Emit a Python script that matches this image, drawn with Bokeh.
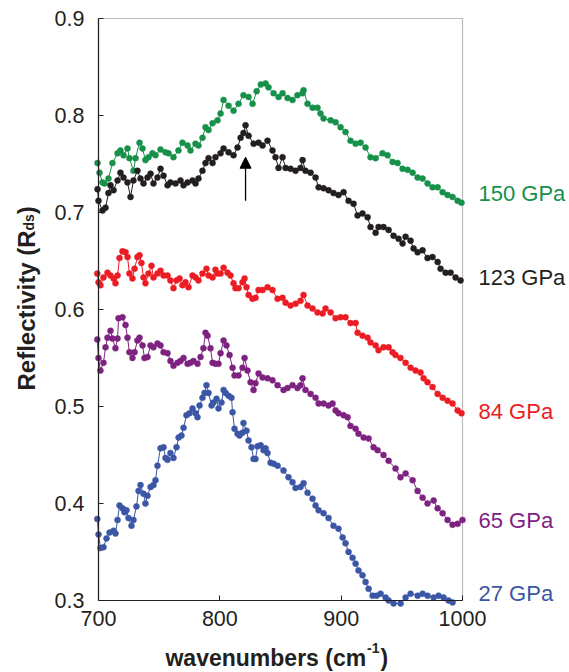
from math import pi

from bokeh.plotting import figure
from bokeh.models import Range1d, Label, Arrow, NormalHead, BoxAnnotation
from bokeh.embed import file_html
from bokeh.resources import INLINE

# ---- reflectivity spectra at each pressure (wavenumber in cm^-1, reflectivity R_ds) ----
wn_150 = [699.2, 700.8, 703.3, 704.9, 708.2, 711.5, 715.7, 718.1, 720.6, 723.9, 725.5, 728.8, 730.5, 733.8,
          736.3, 738.7, 741.2, 744.5, 747.0, 751.1, 755.2, 757.7, 761.8, 765.9, 769.2, 773.4, 775.8, 779.9,
          782.4, 785.7, 788.2, 790.7, 794.0, 798.1, 800.6, 803.1, 807.2, 811.3, 815.4, 819.5, 823.7, 827.0,
          830.3, 833.8, 837.7, 840.1, 844.3, 848.4, 851.7, 855.8, 859.9, 864.0, 868.2, 869.0, 872.3, 876.4,
          880.5, 883.0, 885.5, 891.3, 895.4, 899.5, 903.6, 907.7, 911.9, 916.0, 920.1, 924.2, 928.4, 934.1,
          938.2, 942.4, 946.5, 950.6, 954.7, 958.9, 963.0, 967.1, 971.2, 975.3, 979.5, 983.6, 987.7, 991.8,
          996.0, 999.2]
r_150 = [0.751, 0.741, 0.731, 0.730, 0.735, 0.751, 0.761, 0.764, 0.759, 0.766, 0.756, 0.743, 0.756, 0.772,
         0.766, 0.754, 0.757, 0.761, 0.759, 0.765, 0.762, 0.761, 0.757, 0.764, 0.772, 0.769, 0.764, 0.771,
         0.769, 0.777, 0.788, 0.785, 0.792, 0.795, 0.802, 0.816, 0.810, 0.805, 0.812, 0.821, 0.819, 0.812,
         0.825, 0.832, 0.833, 0.829, 0.823, 0.819, 0.823, 0.818, 0.816, 0.821, 0.823, 0.826, 0.812, 0.808,
         0.808, 0.802, 0.797, 0.795, 0.793, 0.788, 0.783, 0.774, 0.771, 0.772, 0.767, 0.757, 0.756, 0.761,
         0.759, 0.752, 0.751, 0.745, 0.744, 0.741, 0.736, 0.735, 0.730, 0.726, 0.726, 0.721, 0.718, 0.716,
         0.712, 0.710]

wn_123 = [699.2, 700.0, 703.3, 705.8, 708.2, 709.9, 712.4, 715.7, 718.1, 720.6, 723.9, 726.4, 728.8, 732.1,
          734.6, 737.1, 740.4, 742.9, 745.3, 748.6, 751.1, 753.6, 756.9, 759.3, 763.5, 767.6, 770.1, 773.4,
          777.5, 780.0, 782.4, 785.7, 788.2, 790.7, 794.0, 796.4, 800.6, 803.1, 807.2, 811.3, 814.6, 817.1,
          819.5, 821.2, 823.7, 827.8, 831.9, 835.2, 839.3, 843.4, 845.9, 848.4, 851.7, 854.2, 858.3, 862.4,
          866.5, 868.2, 870.6, 874.8, 878.9, 881.4, 885.5, 889.6, 893.7, 897.8, 902.0, 906.1, 910.2, 913.5,
          917.6, 921.8, 924.2, 928.4, 930.8, 934.9, 939.1, 943.2, 947.3, 950.6, 953.1, 957.2, 959.7, 963.0,
          967.1, 971.2, 975.3, 979.5, 981.9, 986.1, 990.2, 994.3, 998.4]
r_123 = [0.724, 0.712, 0.702, 0.705, 0.720, 0.728, 0.723, 0.733, 0.741, 0.736, 0.731, 0.716, 0.733, 0.743,
         0.735, 0.730, 0.736, 0.740, 0.730, 0.736, 0.745, 0.738, 0.728, 0.731, 0.730, 0.733, 0.728, 0.731,
         0.733, 0.730, 0.735, 0.743, 0.751, 0.756, 0.751, 0.757, 0.761, 0.766, 0.762, 0.759, 0.767, 0.777,
         0.782, 0.790, 0.779, 0.771, 0.772, 0.769, 0.774, 0.764, 0.757, 0.746, 0.757, 0.746, 0.745, 0.743,
         0.746, 0.754, 0.743, 0.741, 0.736, 0.726, 0.725, 0.723, 0.720, 0.718, 0.721, 0.712, 0.709, 0.697,
         0.699, 0.695, 0.685, 0.679, 0.685, 0.685, 0.682, 0.676, 0.673, 0.668, 0.675, 0.671, 0.663, 0.659,
         0.661, 0.653, 0.654, 0.649, 0.642, 0.638, 0.638, 0.633, 0.630]

wn_84 = [699.0, 700.0, 701.6, 704.1, 707.4, 709.9, 712.4, 714.0, 715.7, 717.3, 719.8, 722.3, 723.9, 725.5,
         728.0, 729.7, 732.1, 733.8, 735.4, 737.1, 738.7, 741.2, 743.7, 745.3, 748.6, 751.1, 753.6, 756.9,
         759.3, 761.8, 764.3, 766.8, 769.2, 771.7, 774.2, 777.5, 780.0, 782.4, 785.7, 789.0, 790.7, 794.0,
         796.4, 798.1, 800.6, 803.1, 806.3, 808.8, 811.3, 812.9, 815.4, 818.7, 820.4, 822.0, 823.7, 826.9,
         829.4, 831.9, 835.2, 839.3, 843.4, 847.6, 851.7, 854.2, 858.3, 862.4, 866.5, 869.0, 872.3, 876.4,
         880.5, 884.7, 887.1, 891.3, 895.4, 899.5, 903.6, 907.7, 911.9, 913.5, 917.6, 921.8, 924.2, 928.4,
         930.8, 934.9, 939.1, 942.4, 944.8, 948.9, 953.1, 957.2, 961.3, 965.4, 967.9, 971.2, 975.3, 979.5,
         983.6, 987.7, 991.8, 996.0, 999.2]
r_84 = [0.637, 0.628, 0.625, 0.633, 0.638, 0.635, 0.632, 0.627, 0.635, 0.653, 0.660, 0.659, 0.654, 0.637,
        0.632, 0.642, 0.654, 0.656, 0.648, 0.633, 0.627, 0.637, 0.645, 0.633, 0.637, 0.640, 0.635, 0.635,
        0.630, 0.622, 0.630, 0.632, 0.625, 0.628, 0.623, 0.635, 0.633, 0.630, 0.637, 0.642, 0.635, 0.633,
        0.641, 0.637, 0.637, 0.643, 0.638, 0.635, 0.627, 0.622, 0.622, 0.628, 0.632, 0.623, 0.615, 0.611,
        0.612, 0.620, 0.620, 0.623, 0.620, 0.611, 0.612, 0.607, 0.604, 0.606, 0.609, 0.615, 0.604, 0.601,
        0.597, 0.596, 0.601, 0.597, 0.591, 0.592, 0.592, 0.586, 0.586, 0.576, 0.573, 0.571, 0.566, 0.563,
        0.558, 0.561, 0.561, 0.556, 0.553, 0.550, 0.545, 0.540, 0.537, 0.535, 0.529, 0.525, 0.520, 0.513,
        0.509, 0.506, 0.503, 0.496, 0.493]

wn_65 = [699.0, 700.0, 701.6, 704.1, 705.8, 707.4, 709.9, 711.5, 714.0, 715.7, 716.5, 719.8, 722.3, 723.9,
         725.5, 728.0, 729.7, 732.1, 733.8, 736.3, 737.9, 740.4, 742.9, 745.3, 748.6, 751.1, 753.6, 756.9,
         759.3, 761.8, 765.1, 767.6, 770.1, 773.4, 775.8, 778.3, 781.6, 784.1, 786.5, 788.2, 789.9, 792.3,
         794.0, 796.4, 798.9, 800.6, 803.1, 805.5, 808.0, 810.5, 812.1, 815.4, 818.7, 820.4, 822.8, 825.3,
         827.8, 829.4, 831.9, 835.2, 839.3, 843.4, 847.6, 852.5, 855.8, 859.9, 864.0, 866.5, 868.2, 870.6,
         874.8, 878.9, 881.4, 885.5, 889.6, 892.9, 895.4, 897.8, 902.0, 905.3, 907.7, 911.9, 914.3, 918.5,
         922.6, 926.7, 930.0, 934.9, 939.1, 944.8, 948.9, 953.1, 958.9, 963.0, 967.1, 971.2, 976.2, 979.5,
         983.6, 987.7, 991.8, 996.0, 1000.0]
r_65 = [0.569, 0.550, 0.537, 0.545, 0.561, 0.571, 0.578, 0.570, 0.560, 0.570, 0.591, 0.592, 0.584, 0.571,
        0.556, 0.550, 0.556, 0.568, 0.571, 0.563, 0.550, 0.551, 0.563, 0.561, 0.565, 0.563, 0.556, 0.555,
        0.547, 0.542, 0.545, 0.547, 0.550, 0.544, 0.545, 0.547, 0.544, 0.551, 0.560, 0.576, 0.573, 0.560,
        0.545, 0.544, 0.544, 0.555, 0.568, 0.563, 0.553, 0.540, 0.532, 0.532, 0.540, 0.550, 0.537, 0.525,
        0.517, 0.524, 0.534, 0.530, 0.529, 0.527, 0.522, 0.517, 0.519, 0.522, 0.519, 0.522, 0.529, 0.517,
        0.513, 0.509, 0.503, 0.503, 0.501, 0.503, 0.496, 0.493, 0.491, 0.489, 0.480, 0.477, 0.472, 0.468,
        0.467, 0.458, 0.455, 0.450, 0.444, 0.436, 0.427, 0.431, 0.424, 0.413, 0.406, 0.400, 0.403, 0.395,
        0.390, 0.383, 0.378, 0.379, 0.383]

wn_27 = [699.0, 700.0, 701.6, 704.1, 706.6, 709.1, 712.4, 714.0, 715.7, 717.3, 719.8, 721.4, 723.1, 724.7,
         727.2, 728.8, 731.3, 733.0, 734.6, 737.1, 738.7, 740.4, 742.9, 745.3, 747.0, 748.6, 751.1, 753.6,
         755.2, 756.9, 759.3, 761.8, 764.3, 766.0, 768.4, 770.1, 772.5, 775.0, 777.5, 780.0, 781.6, 783.3,
         785.7, 787.4, 789.0, 790.7, 793.2, 794.8, 797.3, 798.9, 801.4, 803.1, 804.7, 807.2, 809.6, 810.5,
         812.1, 814.6, 816.2, 818.7, 819.5, 822.0, 823.7, 826.1, 827.8, 829.4, 831.1, 833.6, 836.0, 837.7,
         839.3, 841.8, 844.3, 847.6, 852.5, 856.6, 859.9, 862.4, 866.5, 869.0, 872.3, 876.4, 878.9, 881.4,
         885.5, 889.6, 893.7, 897.8, 901.2, 903.6, 906.1, 909.4, 911.9, 914.3, 917.6, 920.1, 922.6, 925.9,
         929.2, 932.5, 936.6, 939.1, 943.2, 949.0, 953.1, 957.2, 963.0, 967.1, 971.2, 976.2, 980.3, 984.4,
         988.5, 991.8]
r_27 = [0.384, 0.368, 0.354, 0.355, 0.364, 0.370, 0.372, 0.369, 0.383, 0.398, 0.395, 0.391, 0.393, 0.385,
        0.377, 0.383, 0.397, 0.413, 0.419, 0.410, 0.400, 0.408, 0.417, 0.419, 0.424, 0.439, 0.457, 0.458,
        0.447, 0.445, 0.452, 0.447, 0.458, 0.468, 0.470, 0.478, 0.491, 0.493, 0.498, 0.493, 0.489, 0.501,
        0.509, 0.514, 0.522, 0.514, 0.501, 0.504, 0.508, 0.498, 0.504, 0.517, 0.514, 0.511, 0.509, 0.494,
        0.477, 0.472, 0.470, 0.473, 0.483, 0.475, 0.465, 0.458, 0.446, 0.446, 0.459, 0.460, 0.455, 0.457,
        0.452, 0.442, 0.441, 0.439, 0.434, 0.427, 0.422, 0.416, 0.417, 0.421, 0.411, 0.405, 0.398, 0.393,
        0.390, 0.385, 0.377, 0.374, 0.365, 0.359, 0.350, 0.344, 0.338, 0.331, 0.326, 0.319, 0.312, 0.305,
        0.305, 0.307, 0.303, 0.300, 0.297, 0.297, 0.303, 0.307, 0.305, 0.307, 0.305, 0.303, 0.305, 0.303,
        0.300, 0.298]

pressure_labels = ["150 GPa", "123 GPa", "84 GPa", "65 GPa", "27 GPa"]
series_colors = ["#17904a", "#231f20", "#ec1c24", "#7e2281", "#3a56a5"]
label_y = [0.720, 0.633, 0.495, 0.3825, 0.307]

x_ticks = [700, 800, 900, 1000]
y_ticks = [0.3, 0.4, 0.5, 0.6, 0.7, 0.8, 0.9]
x_lo, x_hi = 700, 1000
y_lo, y_hi = 0.3, 0.9

FONT = "Liberation Sans"
INK = "#231f20"

# The frame spans the whole canvas so the side texts can sit in data space;
# the axes are pinned to the box edges with fixed_location.
p = figure(width=569, height=672, title=None, output_backend="svg", toolbar_location=None,
           x_range=Range1d(619.23, 1088.19), y_range=Range1d(0.22577, 0.91856),
           min_border=0, min_border_left=0, min_border_right=0, min_border_top=0, min_border_bottom=0)
p.grid.visible = False
p.outline_line_color = None
p.background_fill_color = "white"
p.border_fill_color = "white"

for ax in (p.xaxis[0], p.yaxis[0]):
    ax.axis_line_color = INK
    ax.axis_line_width = 1.2
    ax.major_tick_in = 5
    ax.major_tick_out = 0
    ax.major_tick_line_color = INK
    ax.minor_tick_line_color = None
    ax.major_label_text_font = FONT
    ax.major_label_text_font_size = "21.5px"
    ax.major_label_text_color = INK

p.xaxis.ticker = x_ticks
p.xaxis.bounds = (x_lo, x_hi)
p.xaxis.fixed_location = y_lo
p.xaxis.major_label_standoff = 11
p.yaxis.ticker = y_ticks
p.yaxis.bounds = (y_lo, y_hi)
p.yaxis.fixed_location = x_lo
p.yaxis.major_label_overrides = {t: f"{t:.1f}" for t in y_ticks}
p.yaxis.major_label_standoff = 14

# closed box around the data area
p.add_layout(BoxAnnotation(left=x_lo, right=x_hi, bottom=y_lo, top=y_hi, fill_alpha=0,
                           line_color=INK, line_width=1.2, level="underlay"))

spectra = [(wn_150, r_150), (wn_123, r_123), (wn_84, r_84), (wn_65, r_65), (wn_27, r_27)]
for (wn, r), color in zip(spectra, series_colors):
    p.line(wn, r, line_color=color, line_width=1.0)
    p.scatter(wn, r, size=6, fill_color=color, line_color=color, line_width=0.5)

# pressure labels to the right of the box
for text, color, y in zip(pressure_labels, series_colors, label_y):
    p.add_layout(Label(x=1013.2, y=y, text=text, text_font=FONT, text_font_size="22px",
                       text_color=color, text_baseline="middle", text_align="left"))

# arrow marking the peak of the 123 GPa spectrum
peak_wn = wn_123[r_123.index(max(r_123))]
p.add_layout(Arrow(end=NormalHead(size=11, fill_color="black", line_color="black"),
                   x_start=peak_wn, y_start=0.712, x_end=peak_wn, y_end=0.757,
                   line_color="black", line_width=1.3))

# x-axis title with superscript
for txt, xx, yy, size in [("wavenumbers (cm", 755.2, 0.2412, "23px"), ("-1", 921.3, 0.2515, "14px"),
                          (")", 932.4, 0.2412, "23px")]:
    p.add_layout(Label(x=xx, y=yy, text=txt, text_font=FONT, text_font_size=size,
                       text_font_style="bold", text_color=INK, text_baseline="alphabetic"))

# y-axis title with subscript, rotated
for txt, xx, yy, size in [("Reflectivity (R", 640.6, 0.5165, "24px"), ("ds", 643.1, 0.6814, "14px"),
                          (")", 640.6, 0.6982, "24px")]:
    p.add_layout(Label(x=xx, y=yy, text=txt, angle=pi / 2, text_font=FONT, text_font_size=size,
                       text_font_style="bold", text_color=INK, text_baseline="alphabetic"))

open("out.html", "w").write(file_html(p, INLINE))
